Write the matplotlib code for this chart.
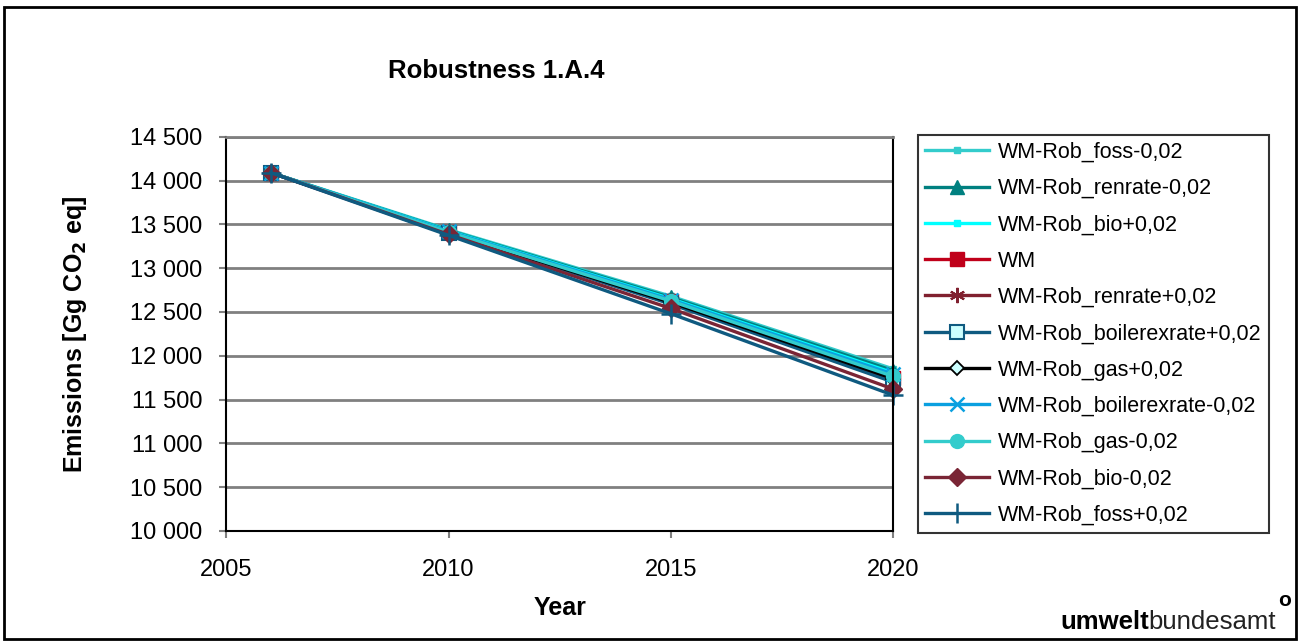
import matplotlib
matplotlib.use('Agg')
import matplotlib.pyplot as plt
from matplotlib.patches import Rectangle

plt.rcParams['font.family'] = ['Liberation Sans', 'DejaVu Sans']

years = [2006, 2010, 2015, 2020]

foss_m = [14090, 13440, 12680, 11850]
renrate_m = [14090, 13430, 12665, 11830]
bio_p = [14090, 13425, 12650, 11805]
wm = [14090, 13410, 12620, 11750]
renrate_p = [14090, 13400, 12600, 11720]
boiler_p = [14090, 13400, 12590, 11700]
gas_p = [14090, 13405, 12610, 11740]
boiler_m = [14090, 13420, 12640, 11790]
gas_m = [14090, 13410, 12625, 11765]
bio_m = [14090, 13385, 12540, 11620]
foss_p = [14090, 13375, 12480, 11550]

series = [
    ('WM-Rob_foss-0,02', foss_m, '#33CCCC', dict(marker='s', ms=4, mfc='#33CCCC', mec='#33CCCC')),
    ('WM-Rob_renrate-0,02', renrate_m, '#008080', dict(marker='^', ms=10, mfc='#008080', mec='#008080')),
    ('WM-Rob_bio+0,02', bio_p, '#00FFFF', dict(marker='s', ms=4, mfc='#00FFFF', mec='#00FFFF')),
    ('WM', wm, '#C0001A', dict(marker='s', ms=10, mfc='#C0001A', mec='#C0001A')),
    ('WM-Rob_renrate+0,02', renrate_p, '#80202F', dict(marker=(6, 2, 0), ms=11, mec='#80202F', mew=1.5)),
    ('WM-Rob_boilerexrate+0,02', boiler_p, '#0F5A80', dict(marker='s', ms=10, mfc='#CCFFFF', mec='#0F5A80', mew=1.5)),
    ('WM-Rob_gas+0,02', gas_p, '#000000', dict(marker='D', ms=7, mfc='#CCFFFF', mec='#000000', mew=1.3)),
    ('WM-Rob_boilerexrate-0,02', boiler_m, '#0AA0E0', dict(marker='x', ms=10, mec='#0AA0E0', mew=1.8)),
    ('WM-Rob_gas-0,02', gas_m, '#33CCCC', dict(marker='o', ms=10, mfc='#33CCCC', mec='#33CCCC')),
    ('WM-Rob_bio-0,02', bio_m, '#7A2535', dict(marker='D', ms=9, mfc='#7A2535', mec='#7A2535')),
    ('WM-Rob_foss+0,02', foss_p, '#0F5A80', dict(marker='+', ms=14, mec='#0F5A80', mew=1.8)),
]

fig = plt.figure(figsize=(13, 6.42), dpi=100)
ax = fig.add_axes([0.174, 0.173, 0.513, 0.614])

for label, vals, col, mk in series:
    ax.plot(years, vals, color=col, lw=2.4, label=label, clip_on=False, **mk)

ax.set_xlim(2005, 2020)
ax.set_ylim(10000, 14500)
ax.set_xticks([2005, 2010, 2015, 2020])
yt = list(range(10000, 14501, 500))
ax.set_yticks(yt)
ax.set_yticklabels([f'{v // 1000} {v % 1000:03d}' for v in yt])
ax.yaxis.grid(True, color='#808080', lw=2)
ax.set_axisbelow(True)
ax.tick_params(labelsize=17, length=5, width=1.5, color='#808080')
ax.tick_params(axis='x', pad=15)
ax.tick_params(axis='y', pad=12)
for s in ['left', 'bottom', 'right']:
    ax.spines[s].set_color('black')
    ax.spines[s].set_linewidth(1.5)
ax.spines['top'].set_color('#808080')
ax.spines['top'].set_linewidth(2)

ax.set_xlabel('Year', fontsize=18, fontweight='bold', labelpad=11)
ax.set_ylabel('Emissions [Gg CO$_\\mathbf{2}$ eq]', fontsize=18, fontweight='bold', labelpad=30)
fig.text(0.382, 0.89, 'Robustness 1.A.4', fontsize=18.5, fontweight='bold', ha='center', va='center')

leg = ax.legend(loc='upper left', bbox_to_anchor=(918 / 1300, 1 - 135 / 642),
                bbox_transform=fig.transFigure, fontsize=15.5, frameon=True,
                fancybox=False, edgecolor='black', handlelength=3.0, labelspacing=0.71,
                borderpad=0.32, handletextpad=0.4, borderaxespad=0)
leg.get_frame().set_linewidth(1.5)

fig.patches.append(Rectangle((0.003, 0.004), 0.994, 0.985, transform=fig.transFigure,
                             fill=False, edgecolor='black', lw=2))

fig.text(0.816, 0.012, 'umwelt', fontsize=18.5, fontweight='bold', ha='left', va='bottom')
fig.text(0.8835, 0.012, 'bundesamt', fontsize=18.5, ha='left', va='bottom', color='#222222')
fig.text(0.988, 0.05, 'o', fontsize=15, fontweight='bold', ha='center', va='bottom')

fig.savefig('out.png', dpi=100)
